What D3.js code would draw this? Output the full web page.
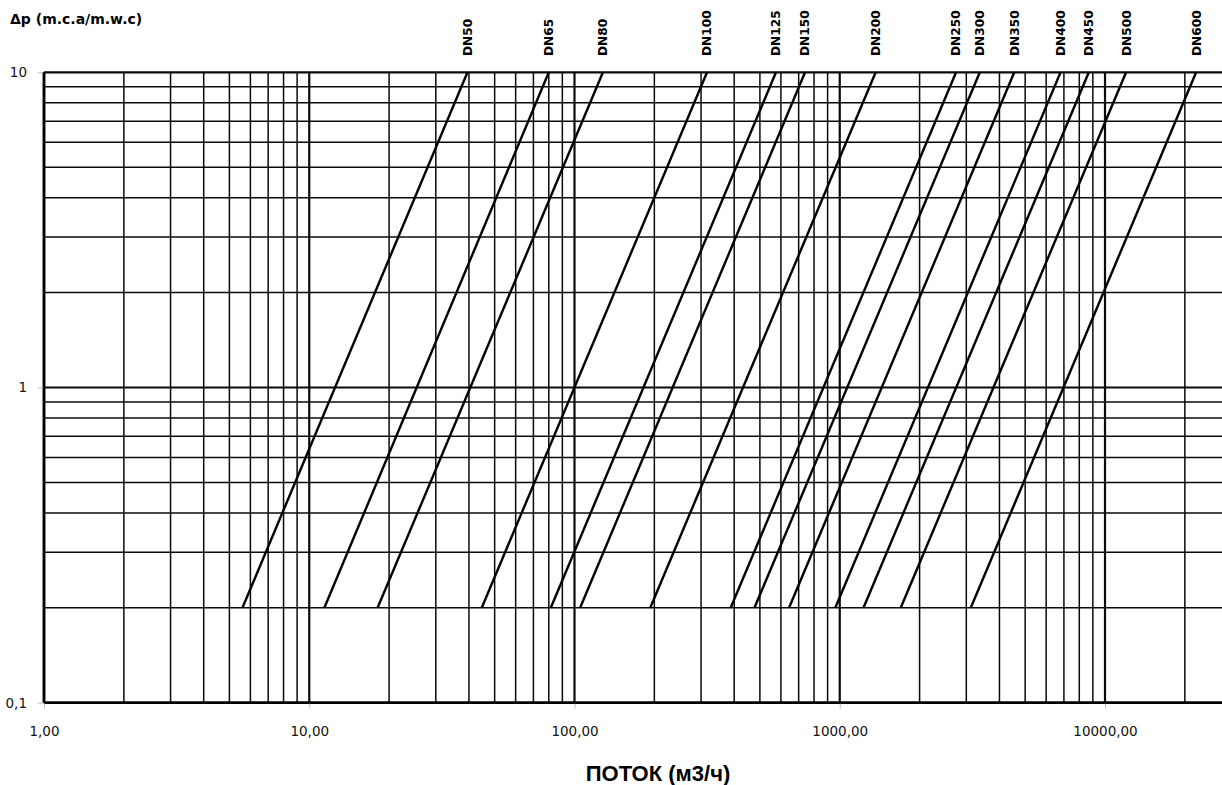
<!DOCTYPE html>
<html>
<head>
<meta charset="utf-8">
<script src="https://cdn.jsdelivr.net/npm/d3@7"></script>
<style>
  html, body { margin: 0; padding: 0; background: #fff; }
  svg { display: block; }
</style>
</head>
<body>
<svg id="chart" width="1222" height="785"></svg>
<script>
// ---- data ----
const dnNames = ["DN50","DN65","DN80","DN100","DN125","DN150","DN200","DN250","DN300","DN350","DN400","DN450","DN500","DN600"];
// flow (m3/h) at the lower end of each line (Δp = 0.2)
const flowLow  = [5.6, 11.4, 18.1, 44.7, 81.4, 105, 193, 388, 477, 644, 962, 1229, 1698, 3119];
// flow (m3/h) at the upper end of each line (Δp = 10)
const flowHigh = [39.5, 80, 128, 316, 575, 740, 1366, 2745, 3374, 4550, 6800, 8690, 12010, 22060];
const dpLow = 0.2, dpHigh = 10;

const xTickValues = [1, 10, 100, 1000, 10000];
const xTickLabels = ["1,00", "10,00", "100,00", "1000,00", "10000,00"];
const yTickValues = [0.1, 1, 10];
const yTickLabels = ["0,1", "1", "10"];

const xTitle = "ПОТОК (м3/ч)";
const yTitle = "\u0394p (m.c.a/m.w.c)";

(function () {
// ---- layout ----
const pL = 44, pR = 1222, pT = 72.3, pB = 702.7;

const svg = d3.select("#chart");
const x = d3.scaleLog().domain([1, 10000]).range([pL, 1105]);
const y = d3.scaleLog().domain([0.1, 10]).range([pB, pT]);

svg.append("defs").append("clipPath").attr("id", "plotclip")
  .append("rect").attr("x", pL - 2).attr("y", pT - 2)
  .attr("width", pR - pL + 2).attr("height", pB - pT + 4);

const plot = svg.append("g").attr("clip-path", "url(#plotclip)");

// grid values
const xGrid = [];
for (let d = 1; d <= 10000; d *= 10) for (let k = 1; k <= 9; k++) xGrid.push(d * k);
const yGrid = [];
for (let d = 0.1; d < 10; d *= 10) for (let k = 1; k <= 9; k++) yGrid.push(+(d * k).toPrecision(3));
yGrid.push(10);

const isMajor = v => Math.abs(Math.log10(v) - Math.round(Math.log10(v))) < 1e-9;

plot.append("g").selectAll("line").data(yGrid).join("line")
  .attr("x1", pL).attr("x2", pR)
  .attr("y1", d => y(d)).attr("y2", d => y(d))
  .attr("stroke", "#0a0a0a")
  .attr("stroke-width", d => isMajor(d) ? 2.2 : 1.5);

plot.append("g").selectAll("line").data(xGrid).join("line")
  .attr("x1", d => x(d)).attr("x2", d => x(d))
  .attr("y1", pT).attr("y2", pB)
  .attr("stroke", "#0a0a0a")
  .attr("stroke-width", d => isMajor(d) ? 2.2 : 1.5);

// axes lines
svg.append("line").attr("x1", pL).attr("x2", pL).attr("y1", pT).attr("y2", pB)
  .attr("stroke", "#000").attr("stroke-width", 2.8);
svg.append("line").attr("x1", pL).attr("x2", pR).attr("y1", pB).attr("y2", pB)
  .attr("stroke", "#000").attr("stroke-width", 2.6);

// ticks
const xAxis = d3.axisBottom(x).tickValues(xTickValues).tickSize(5)
  .tickFormat((d, i) => xTickLabels[i]).tickPadding(18);
const gx = svg.append("g").attr("transform", `translate(0,${pB + 1})`).call(xAxis);
gx.select(".domain").remove();
gx.selectAll(".tick line").attr("stroke", "#bbb");
gx.selectAll(".tick text").attr("font-family", "DejaVu Sans").attr("font-size", 13.5)
  .attr("fill", "#111");

const yAxis = d3.axisLeft(y).tickValues(yTickValues).tickSize(5)
  .tickFormat((d, i) => yTickLabels[i]).tickPadding(11);
const gy = svg.append("g").attr("transform", `translate(${pL - 1},0)`).call(yAxis);
gy.select(".domain").remove();
gy.selectAll(".tick line").attr("stroke", "#bbb");
gy.selectAll(".tick text").attr("font-family", "DejaVu Sans").attr("font-size", 13.5)
  .attr("fill", "#111");

// DN lines
const lineGen = d3.line().x(d => x(d[0])).y(d => y(d[1]));
const series = dnNames.map((n, i) => ({ name: n, pts: [[flowLow[i], dpLow], [flowHigh[i], dpHigh]] }));

plot.append("g").selectAll("path").data(series).join("path")
  .attr("d", d => lineGen(d.pts))
  .attr("fill", "none").attr("stroke", "#000").attr("stroke-width", 2.4);

// DN labels
svg.append("g").selectAll("text").data(series).join("text")
  .attr("transform", d => `translate(${x(d.pts[1][0])},56) rotate(-90)`)
  .attr("dy", "0.36em")
  .attr("text-anchor", "start")
  .attr("font-family", "DejaVu Sans").attr("font-weight", "bold").attr("font-size", 12.2)
  .attr("fill", "#000")
  .text(d => d.name);

// titles
svg.append("text").attr("x", 10).attr("y", 24)
  .attr("font-family", "DejaVu Sans").attr("font-weight", "bold").attr("font-size", 14)
  .attr("fill", "#000").text(yTitle);

svg.append("text").attr("x", 658).attr("y", 781).attr("text-anchor", "middle")
  .attr("font-family", "Liberation Sans").attr("font-weight", "bold").attr("font-size", 22)
  .attr("fill", "#000").text(xTitle);
})();
</script>
</body>
</html>
